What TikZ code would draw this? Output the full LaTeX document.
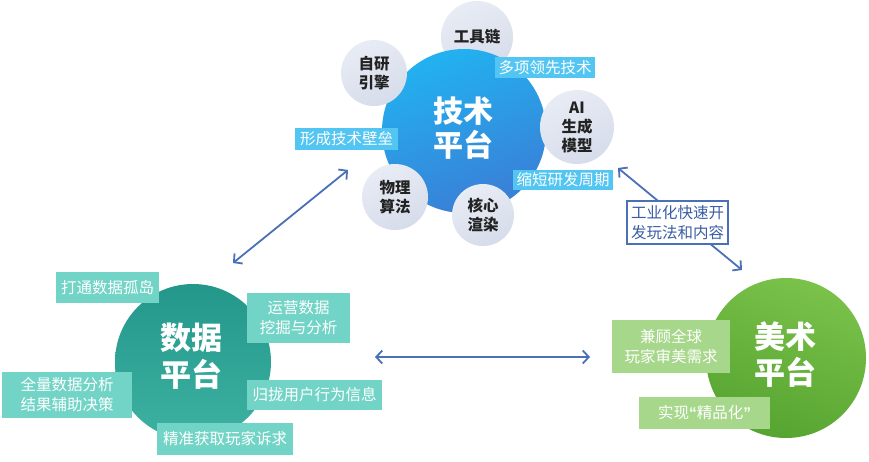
\documentclass[tikz,border=0pt]{standalone}
\usepackage{fontspec}
\setmainfont{Noto Sans CJK SC}
\newfontfamily\latinq{Liberation Sans}
\usetikzlibrary{arrows.meta}
\definecolor{techA}{HTML}{22B2F0}
\definecolor{techB}{HTML}{3A7ED6}
\definecolor{greyA}{HTML}{E8ECF5}
\definecolor{greyB}{HTML}{D6DCEA}
\definecolor{cyanlab}{HTML}{52C5F2}
\definecolor{dataA}{HTML}{23978A}
\definecolor{dataB}{HTML}{3DB2A2}
\definecolor{tealab}{HTML}{72D4C6}
\definecolor{artA}{HTML}{7AC24A}
\definecolor{artB}{HTML}{56A431}
\definecolor{greenlab}{HTML}{A6D78A}
\definecolor{arrowc}{HTML}{4A70B8}
\definecolor{boxtext}{HTML}{3B5DA6}
\definecolor{darktext}{HTML}{222222}
\tikzset{
  bigcircle/.style={circle, inner sep=0pt, text=white, font=\fontsize{31}{35}\selectfont\bfseries, align=center},
  subcircle/.style={circle, top color=greyA, bottom color=greyB, shading angle=25, inner sep=0pt, text=darktext, font=\fontsize{15.5}{19}\selectfont\bfseries, align=center},
  lab/.style={inner sep=0pt, text=white, font=\fontsize{15.5}{20}\selectfont, align=center},
  cyanbox/.style={lab, fill=cyanlab},
  tealbox/.style={lab, fill=tealab},
  greenbox/.style={lab, fill=greenlab},
  linkarrow/.style={draw=arrowc, line width=1.8pt, {Straight Barb[length=6pt,width=13pt]}-{Straight Barb[length=6pt,width=13pt]}},
}
\begin{document}
\begin{tikzpicture}[x=1pt,y=-1pt]
\useasboundingbox[fill=white] (0,0) rectangle (869,461);
% technology platform
\node[subcircle, minimum size=72pt] (tool) at (477,37) {工具链};
\node[bigcircle, minimum size=164pt, top color=techA, bottom color=techB, shading angle=20] (tech) at (464,131) {};
\node[subcircle, minimum size=66pt] (engine) at (374,73) {自研\\引擎};
\node[subcircle, minimum size=74pt] (ai) at (577,127) {AI\\生成\\模型};
\node[subcircle, minimum size=66pt] (phys) at (395,197) {物理\\算法};
\node[subcircle, minimum size=62pt] (render) at (483,215) {核心\\渲染};
\node[text=white, font=\fontsize{30}{34}\selectfont\bfseries, align=center] (techtitle) at (463,128) {技术\\平台};
\node[cyanbox, minimum width=100pt, minimum height=21pt] (lead) at (545,67.5) {多项领先技术};
\node[cyanbox, minimum width=103pt, minimum height=22pt] (barrier) at (346.5,139) {形成技术壁垒};
\node[cyanbox, minimum width=100pt, minimum height=20pt] (cycle) at (563,180) {缩短研发周期};
% data platform
\node[bigcircle, minimum size=156pt, top color=dataA, bottom color=dataB] (data) at (193,362) {};
\node[text=white, font=\fontsize{31}{37}\selectfont\bfseries, align=center] (datatitle) at (191,356) {数据\\平台};
\node[tealbox, minimum width=103pt, minimum height=31pt] (island) at (107.5,287.5) {打通数据孤岛};
\node[tealbox, minimum width=103pt, minimum height=50pt] (mining) at (298.5,318) {运营数据\\挖掘与分析};
\node[tealbox, minimum width=130pt, minimum height=46pt] (decide) at (67,395) {全量数据分析\\结果辅助决策};
\node[tealbox, minimum width=135pt, minimum height=30pt] (behav) at (314.5,395) {归拢用户行为信息};
\node[tealbox, minimum width=136pt, minimum height=32pt] (demand) at (225,439) {精准获取玩家诉求};
% art platform
\node[bigcircle, minimum size=160pt, top color=artA, bottom color=artB, shading angle=-20] (art) at (786,358) {};
\node[text=white, font=\fontsize{31}{36}\selectfont\bfseries, align=center] (arttitle) at (785,355) {美术\\平台};
\node[greenbox, minimum width=118pt, minimum height=53pt] (global) at (671,346.5) {兼顾全球\\玩家审美需求};
\node[greenbox, minimum width=131pt, minimum height=32pt] (fine) at (704.5,413) {实现{\latinq\bfseries “}精品化{\latinq\bfseries ”}};
% connectors
\coordinate (a1) at (233,263);
\coordinate (a2) at (348,170);
\coordinate (b1) at (375,357);
\coordinate (b2) at (590,357);
\coordinate (c1) at (618,168);
\coordinate (c2) at (742,270);
\draw[linkarrow] (a1) -- (a2);
\draw[linkarrow] (b1) -- (b2);
\draw[linkarrow] (c1) -- (c2);
\node[draw=arrowc, line width=1.3pt, fill=white, text=boxtext, inner sep=0pt, minimum width=101pt, minimum height=43pt, align=center, font=\fontsize{15.5}{20}\selectfont] (indus) at (677.5,222.5) {工业化快速开\\发玩法和内容};
\end{tikzpicture}
\end{document}
